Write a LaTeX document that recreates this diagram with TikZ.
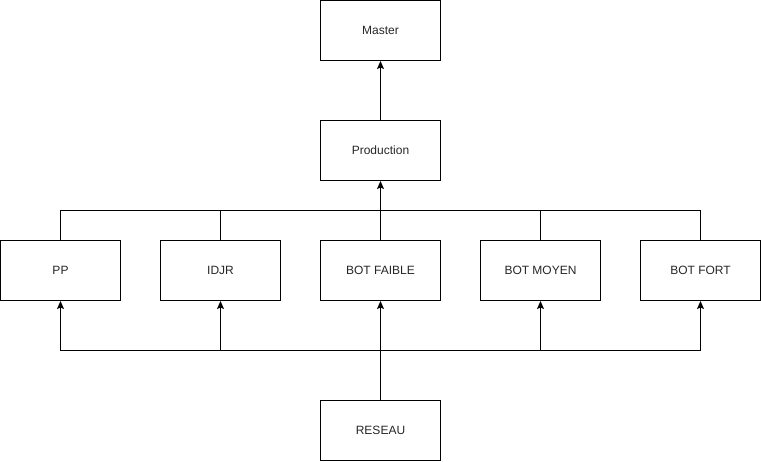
\documentclass[tikz,border=0pt]{standalone}
\usepackage{fontspec}
\setmainfont{Liberation Sans}
\usetikzlibrary{arrows.meta}
\begin{document}
\begin{tikzpicture}[x=1pt,y=-1pt,
  box/.style={draw=black,line width=1pt,minimum width=120pt,minimum height=60pt,inner sep=0pt,font=\fontsize{12}{14}\selectfont,text=black!85},
  conn/.style={draw=black,line width=1pt},
  arr/.style={conn,-{Stealth[length=8pt,width=7pt,inset=1.5pt]}}]
\useasboundingbox (0,0) rectangle (761,461);
\node[box] (master) at (380.5,30.5) {Master};
\node[box] (prod) at (380.5,150.5) {Production};
\node[box] (pp) at (60.5,270.5) {PP};
\node[box] (idjr) at (220.5,270.5) {IDJR};
\node[box] (faible) at (380.5,270.5) {BOT FAIBLE};
\node[box] (moyen) at (540.5,270.5) {BOT MOYEN};
\node[box] (fort) at (700.5,270.5) {BOT FORT};
\node[box] (reseau) at (380.5,430.5) {RESEAU};
\coordinate (top) at (380.5,210.5);
\coordinate (bot) at (380.5,350.5);
\draw[arr] (prod.north) -- (master.south);
\draw[arr] (top) -- (prod.south);
\foreach \n in {pp,idjr,faible,moyen,fort}{
  \draw[conn] (\n.north) -- (\n.north |- top) -- (top);
  \draw[arr] (\n.south |- bot) -- (\n.south);
}
\draw[conn] (pp.south |- bot) -- (fort.south |- bot);
\draw[conn] (pp.north |- top) -- (fort.north |- top);
\draw[conn] (reseau.north) -- (bot);
\end{tikzpicture}
\end{document}
